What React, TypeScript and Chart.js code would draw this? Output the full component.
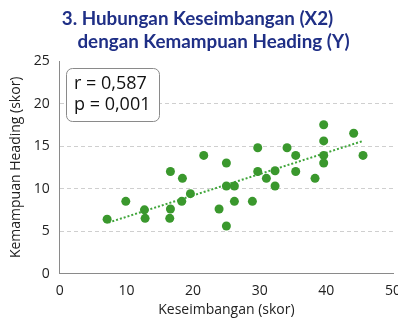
import React, { useEffect, useRef } from "react";
import { Chart, registerables } from "chart.js";
Chart.register(...registerables);

const titleLines = ["3. Hubungan Keseimbangan (X2)", "dengan Kemampuan Heading (Y)"];
const statLines = ["r = 0,587", "p = 0,001"];
const xTitle = "Keseimbangan (skor)";
const yTitle = "Kemampuan Heading (skor)";

const keseimbangan = [7.1, 9.9, 12.7, 12.8, 16.6, 18.4, 16.6, 16.5, 18.3, 19.6, 21.6, 25.0, 25.0, 26.2, 23.9, 25.0, 26.2, 28.9, 29.7, 29.7, 31.0, 32.3, 32.3, 34.1, 35.4, 35.4, 38.3, 39.6, 39.6, 39.6, 39.6, 44.1, 45.5];
const heading = [6.4, 8.5, 7.5, 6.5, 12.0, 11.2, 7.6, 6.5, 8.5, 9.4, 13.9, 13.0, 10.3, 10.3, 7.6, 5.6, 8.5, 8.5, 14.8, 12.0, 11.2, 12.1, 10.3, 14.8, 13.9, 12.0, 11.2, 17.5, 15.6, 13.9, 13.0, 16.5, 13.9];
const trendX = [7.3, 45.5];
const trendY = [6.0, 15.6];

const FONT = "'Open Sans', sans-serif";

const overlayPlugin = {
  id: "overlay",
  afterDraw(chart: any) {
    const ctx = chart.ctx;
    ctx.save();
    // title
    ctx.fillStyle = "#1f2f86";
    ctx.font = "bold 18.8px Lato, sans-serif";
    ctx.textBaseline = "middle";
    ctx.textAlign = "center";
    ctx.fillText(titleLines[0], 197.5, 19);
    ctx.fillText(titleLines[1], 213.5, 42);
    // stats box
    const bx = 66, by = 68, bw = 93, bh = 53;
    ctx.beginPath();
    ctx.roundRect(bx + 0.5, by + 0.5, bw, bh, 6);
    ctx.fillStyle = "#ffffff";
    ctx.fill();
    ctx.strokeStyle = "#8a8a8a";
    ctx.lineWidth = 1;
    ctx.stroke();
    ctx.fillStyle = "#111111";
    ctx.textAlign = "left";
    ctx.font = "18px " + FONT;
    ctx.fillText(statLines[0], 74, 84);
    ctx.fillText(statLines[1], 74, 105);
    ctx.restore();
  },
};

export default function App() {
  const ref = useRef<HTMLCanvasElement>(null);
  useEffect(() => {
    document.body.style.margin = "0";
    document.body.style.background = "#ffffff";
    const points = keseimbangan.map((x, i) => ({ x, y: heading[i] }));
    const trend = trendX.map((x, i) => ({ x, y: trendY[i] }));
    const chart = new Chart(ref.current!, {
      type: "scatter",
      data: {
        datasets: [
          {
            data: points,
            backgroundColor: "#3a982d",
            borderWidth: 0,
            pointRadius: 4.5,
            pointHoverRadius: 4.5,
            order: 1,
          },
          {
            data: trend,
            showLine: true,
            borderColor: "#3fa53a",
            borderWidth: 2,
            borderDash: [2, 2],
            pointRadius: 0,
            fill: false,
            order: 2,
          } as any,
        ],
      },
      options: {
        responsive: false,
        animation: false,
        layout: { padding: { top: 61, right: 5, left: 8, bottom: 0 } },
        plugins: { legend: { display: false }, tooltip: { enabled: false }, title: { display: false } },
        scales: {
          x: {
            type: "linear",
            min: 0,
            max: 50,
            ticks: { stepSize: 10, color: "#222", font: { family: FONT, size: 14 }, padding: 8.6, maxRotation: 0 },
            grid: { display: false, drawTicks: false, tickLength: 0 },
            border: { display: true, color: "#8a8a8a", width: 1 },
            title: { display: true, text: xTitle, color: "#222", font: { family: FONT, size: 14 }, padding: { top: -6.4, bottom: 4 } },
            afterFit(scale: any) {
              scale.paddingRight = 0;
            },
          },
          y: {
            min: 0,
            max: 25,
            ticks: { stepSize: 5, color: "#222", font: { family: FONT, size: 14 }, padding: 10 },
            grid: {
              display: true,
              drawOnChartArea: true,
              color: "#cfcfcf",
              lineWidth: (c: any) => (c.tick && (c.tick.value === 0 || c.tick.value === 25) ? 0 : 1),
              drawTicks: false,
            } as any,
            border: { display: true, color: "#8a8a8a", width: 1, dash: [4, 3] } as any,
            title: { display: true, text: yTitle, color: "#222", font: { family: FONT, size: 14 }, padding: { top: 0, bottom: -1 } },
          },
        },
      },
      plugins: [overlayPlugin],
    });
    return () => chart.destroy();
  }, []);
  return <canvas ref={ref} width={398} height={322} style={{ display: "block" }} />;
}
